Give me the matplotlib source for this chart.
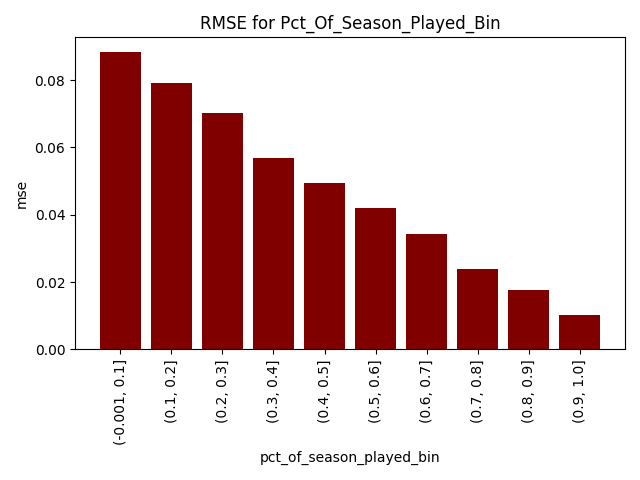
import matplotlib
matplotlib.use("Agg")
import matplotlib.pyplot as plt

bins = ["(-0.001, 0.1]", "(0.1, 0.2]", "(0.2, 0.3]", "(0.3, 0.4]", "(0.4, 0.5]",
        "(0.5, 0.6]", "(0.6, 0.7]", "(0.7, 0.8]", "(0.8, 0.9]", "(0.9, 1.0]"]
rmse = [0.0883, 0.0791, 0.0702, 0.0568, 0.0494, 0.0419, 0.0342, 0.0238, 0.0178, 0.0101]

fig, ax = plt.subplots(figsize=(6.4, 4.8), dpi=100)
ax.bar(bins, rmse, color="maroon")
ax.set_title("RMSE for Pct_Of_Season_Played_Bin")
ax.set_xlabel("pct_of_season_played_bin")
ax.set_ylabel("mse")
plt.xticks(rotation=90)
plt.tight_layout()
plt.savefig("out.png")
